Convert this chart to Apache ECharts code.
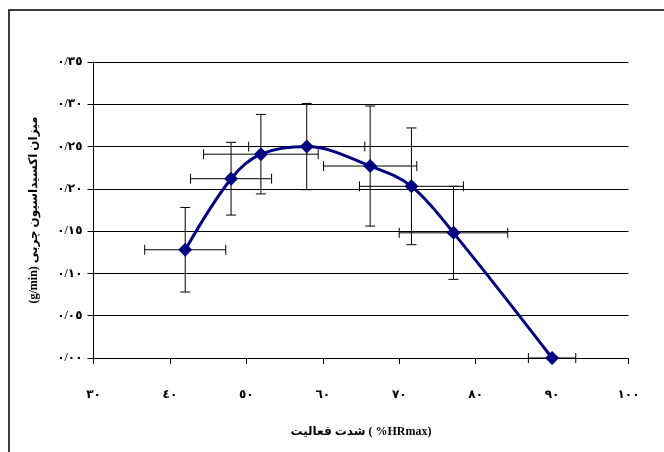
<!DOCTYPE html>
<html>
<head>
<meta charset="utf-8">
<script src="https://cdn.jsdelivr.net/npm/echarts@6/dist/echarts.min.js"></script>
<style>
html,body{margin:0;padding:0;background:#fff;}
#chart{width:664px;height:452px;}
</style>
</head>
<body>
<div id="chart"></div>
<script>
// Data
var intensity = [42.0, 48.0, 51.9, 57.9, 66.2, 71.6, 77.1, 90.0];      // %HRmax
var fatOxidation = [0.128, 0.212, 0.241, 0.250, 0.227, 0.203, 0.148, 0.000]; // g/min
var intensityErr = [5.3, 5.3, 7.5, 7.6, 6.1, 6.8, 7.1, 3.1];
var fatOxidationErr = [0.050, 0.043, 0.047, 0.051, 0.071, 0.069, 0.055, 0.000];
var xTickLabels = ['٣٠', '٤٠', '٥٠', '٦٠', '٧٠', '٨٠', '٩٠', '١٠٠'];
var yTickLabels = ['٠/٠٠', '٠/٠٥', '٠/١٠', '٠/١٥', '٠/٢٠', '٠/٢٥', '٠/٣٠', '٠/٣٥'];
var xTitleFa = 'شدت فعالیت';
var xTitleUnit = ' ( %HRmax)';
var yTitle = '(g/min) میزان اکسیداسیون چربی';

var chart = echarts.init(document.getElementById('chart'), null, {renderer: 'canvas'});
var FONT = "'Liberation Serif', 'Times New Roman', 'DejaVu Sans', serif";

var lineData = intensity.map(function (x, i) { return [x, fatOxidation[i]]; });
var errData = intensity.map(function (x, i) {
  return [x, fatOxidation[i], intensityErr[i], fatOxidationErr[i]];
});

function renderErr(params, api) {
  var x = api.value(0), y = api.value(1), ex = api.value(2), ey = api.value(3);
  var c = api.coord([x, y]);
  var cap = 5;
  var style = {stroke: '#000', lineWidth: 1, fill: null};
  var children = [];
  if (ey > 0) {
    var top = api.coord([x, y + ey]);
    var bot = api.coord([x, y - ey]);
    children.push({type: 'line', shape: {x1: c[0], y1: top[1], x2: c[0], y2: bot[1]}, style: style});
    children.push({type: 'line', shape: {x1: c[0] - cap, y1: top[1], x2: c[0] + cap, y2: top[1]}, style: style});
    children.push({type: 'line', shape: {x1: c[0] - cap, y1: bot[1], x2: c[0] + cap, y2: bot[1]}, style: style});
  }
  if (ex > 0) {
    var l = api.coord([x - ex, y]);
    var r = api.coord([x + ex, y]);
    children.push({type: 'line', shape: {x1: l[0], y1: c[1], x2: r[0], y2: c[1]}, style: style});
    children.push({type: 'line', shape: {x1: l[0], y1: c[1] - cap, x2: l[0], y2: c[1] + cap}, style: style});
    children.push({type: 'line', shape: {x1: r[0], y1: c[1] - cap, x2: r[0], y2: c[1] + cap}, style: style});
  }
  return {type: 'group', children: children};
}

var titleStyle = {color: '#000', fontWeight: 'bold', fontSize: 12, fontFamily: FONT};

chart.setOption({
  backgroundColor: '#fff',
  animation: false,
  graphic: [{
    type: 'rect',
    shape: {x: 9, y: 10, width: 800, height: 600},
    style: {fill: null, stroke: '#000', lineWidth: 1.5},
    silent: true
  }],
  grid: {left: 93.5, top: 62, width: 535, height: 296, containLabel: false},
  xAxis: {
    type: 'value', min: 30, max: 100, interval: 10,
    axisLine: {show: true, onZero: false, lineStyle: {color: '#000', width: 1}},
    axisTick: {show: true, inside: false, length: 6, lineStyle: {color: '#000'}},
    splitLine: {show: false},
    axisLabel: {
      margin: 31, color: '#000', fontWeight: 'bold', fontSize: 12, fontFamily: FONT,
      formatter: function (v) { return xTickLabels[Math.round((v - 30) / 10)]; }
    },
    name: '{fa|' + xTitleFa + '}{en|' + xTitleUnit + '}',
    nameLocation: 'middle', nameGap: 68,
    nameTextStyle: {
      color: '#000', fontWeight: 'bold', fontSize: 12, fontFamily: FONT,
      rich: {fa: titleStyle, en: titleStyle}
    }
  },
  yAxis: {
    type: 'value', min: 0, max: 0.35, interval: 0.05,
    axisLine: {show: true, onZero: false, lineStyle: {color: '#000', width: 1}},
    axisTick: {show: true, inside: false, length: 6, lineStyle: {color: '#000'}},
    splitLine: {show: true, lineStyle: {color: '#000', width: 1}},
    axisLabel: {
      margin: 11, color: '#000', fontWeight: 'bold', fontSize: 12, fontFamily: FONT,
      formatter: function (v) { return yTickLabels[Math.round(v / 0.05)]; }
    },
    name: yTitle, nameLocation: 'middle', nameGap: 54, nameRotate: 90,
    nameTextStyle: titleStyle
  },
  series: [{
    type: 'custom',
    renderItem: renderErr,
    data: errData,
    z: 2,
    silent: true
  }, {
    type: 'line',
    data: lineData,
    smooth: 0.35,
    symbol: 'diamond',
    symbolSize: 14,
    lineStyle: {color: '#000080', width: 3},
    itemStyle: {color: '#000080'},
    z: 3
  }]
});
</script>
</body>
</html>
